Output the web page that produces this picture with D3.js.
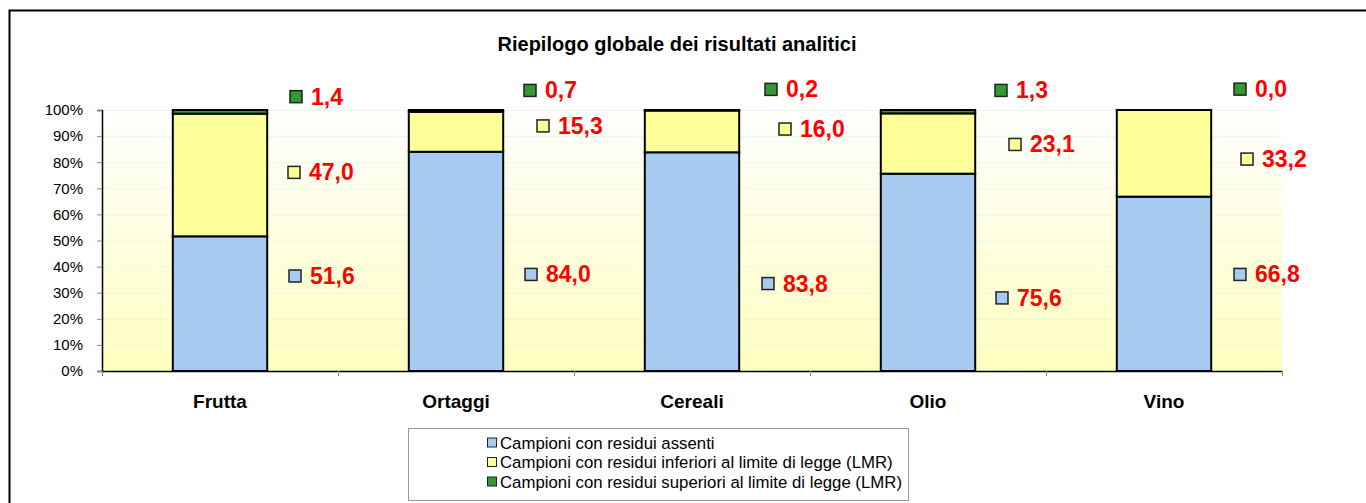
<html>
<head>
<meta charset="utf-8">
<title>Riepilogo globale dei risultati analitici</title>
<style type="text/css">
body { margin: 0; background: #fff; }
text { font-family: "Liberation Sans", Arial, sans-serif; }
</style>
</head>
<body>
<script src="https://d3js.org/d3.v7.min.js"></script>
<script>

// data (% of samples)
var categories = ["Frutta", "Ortaggi", "Cereali", "Olio", "Vino"];
var assenti    = [51.6, 84.0, 83.8, 75.6, 66.8];
var inferiori  = [47.0, 15.3, 16.0, 23.1, 33.2];
var superiori  = [1.4, 0.7, 0.2, 1.3, 0.0];
var seriesNames = ["Campioni con residui assenti",
                   "Campioni con residui inferiori al limite di legge (LMR)",
                   "Campioni con residui superiori al limite di legge (LMR)"];
var yTicks = [0, 10, 20, 30, 40, 50, 60, 70, 80, 90, 100];

// where the (hand moved) labels sit: y in % units, dx in px from bar centre
var labelY  = [[36.4, 76.1, 105.1], [37.0, 93.9, 107.5], [33.5, 92.7, 107.9], [28.0, 86.8, 107.5], [37.0, 81.2, 108.0]];
var labelDx = [[75, 74, 76], [75, 87, 74], [76, 93, 79], [74, 87, 73], [76, 83, 76]];

var colors = ["#A6CAF0", "#FFFF99", "#339933"];

var W = 1366, H = 503;
var margin = {top: 110, left: 102, right: 84, bottom: 132};

var svg = d3.select("body").append("svg")
    .attr("width", W)
    .attr("height", H);

// chart border (runs off the right and bottom)
svg.append("path")
    .attr("d", "M9.5," + H + "V10.5H" + W)
    .attr("fill", "none")
    .attr("stroke", "#000")
    .attr("stroke-width", 2);

var x = d3.scaleBand()
    .domain(categories)
    .range([margin.left, W - margin.right])
    .paddingInner(0.6)
    .paddingOuter(0.3);
var y = d3.scaleLinear()
    .domain([0, 100])
    .range([H - margin.bottom, margin.top]);

// background gradient
var defs = svg.append("defs");
var grad = defs.append("linearGradient")
    .attr("id", "bg").attr("x1", 0).attr("y1", 0).attr("x2", 0).attr("y2", 1);
grad.append("stop").attr("offset", "0%").attr("stop-color", "#ffffff");
grad.append("stop").attr("offset", "100%").attr("stop-color", "#FFFFC0");

svg.append("rect")
    .attr("x", margin.left)
    .attr("y", y(100))
    .attr("width", W - margin.right - margin.left)
    .attr("height", y(0) - y(100))
    .attr("fill", "url(#bg)");

// gridlines
svg.append("g").selectAll("line")
    .data(yTicks.slice(1))
    .join("line")
    .attr("x1", margin.left).attr("x2", W - margin.right)
    .attr("y1", function(d) { return y(d) + 0.5; })
    .attr("y2", function(d) { return y(d) + 0.5; })
    .attr("stroke", "#E4FBE4")
    .attr("stroke-width", 1);

// title
svg.append("text")
    .attr("x", 677)
    .attr("y", 51)
    .attr("text-anchor", "middle")
    .style("font-size", "20px")
    .style("font-weight", "bold")
    .text("Riepilogo globale dei risultati analitici");

// stacked bars
var table = categories.map(function(c, i) {
  return {cat: c, a: assenti[i], b: inferiori[i], c: superiori[i]};
});
var stack = d3.stack().keys(["a", "b", "c"])(table);

svg.append("g").selectAll("g")
    .data(stack)
    .join("g")
    .attr("fill", function(d, i) { return colors[i]; })
    .selectAll("rect")
    .data(function(d) { return d; })
    .join("rect")
    .attr("x", function(d) { return x(d.data.cat); })
    .attr("y", function(d) { return y(d[1]); })
    .attr("width", x.bandwidth())
    .attr("height", function(d) { return y(d[0]) - y(d[1]); })
    .attr("stroke", "#000")
    .attr("stroke-width", 2);

// y axis
var yAxis = svg.append("g")
    .attr("transform", "translate(" + margin.left + ",0)")
    .call(d3.axisLeft(y).tickValues(yTicks).tickFormat(function(d) { return d + "%"; }).tickSize(5).tickPadding(14));
yAxis.select(".domain").attr("stroke", "#000").attr("stroke-width", 1.5);
yAxis.selectAll(".tick line").attr("stroke", "#888");
yAxis.selectAll("text").style("font-size", "15px").attr("fill", "#000");

// x axis
var xAxis = svg.append("g")
    .attr("transform", "translate(0," + y(0) + ")")
    .call(d3.axisBottom(x).tickSize(0).tickPadding(24));
xAxis.select(".domain").attr("stroke", "#000").attr("stroke-width", 1.5);
xAxis.selectAll("text").style("font-size", "19px").style("font-weight", "bold").attr("fill", "#000");
xAxis.selectAll("line.bound")
    .data(d3.range(categories.length + 1))
    .join("line")
    .attr("class", "bound")
    .attr("x1", function(i) { return margin.left + i * x.step() + 0.5; })
    .attr("x2", function(i) { return margin.left + i * x.step() + 0.5; })
    .attr("y1", 0).attr("y2", 5)
    .attr("stroke", "#888");

// data labels with legend key
var seriesVals = [assenti, inferiori, superiori];
var labels = [];
categories.forEach(function(c, i) {
  seriesVals.forEach(function(vals, s) {
    labels.push({cx: x(c) + x.bandwidth() / 2 + labelDx[i][s], cy: y(labelY[i][s]), v: vals[i], s: s});
  });
});

var lab = svg.append("g").selectAll("g")
    .data(labels)
    .join("g")
    .attr("transform", function(d) { return "translate(" + d.cx + "," + d.cy + ")"; });
lab.append("rect")
    .attr("x", -6).attr("y", -6)
    .attr("width", 12).attr("height", 12)
    .attr("fill", function(d) { return colors[d.s]; })
    .attr("stroke", "#222")
    .attr("stroke-width", 1.5);
lab.append("text")
    .attr("x", 15)
    .attr("y", 8)
    .style("font-size", "23px")
    .style("font-weight", "bold")
    .attr("fill", "#FF0000")
    .text(function(d) { return d3.format(".1f")(d.v).replace(".", ","); });

// legend
var lg = svg.append("g");
lg.append("rect")
    .attr("x", 408.5).attr("y", 428.5)
    .attr("width", 500).attr("height", 72)
    .attr("fill", "#fff")
    .attr("stroke", "#999");
var li = lg.selectAll("g")
    .data(seriesNames)
    .join("g")
    .attr("transform", function(d, i) { return "translate(487," + (442.5 + i * 19.5) + ")"; });
li.append("rect")
    .attr("x", 0.5).attr("y", -4.5)
    .attr("width", 9).attr("height", 9)
    .attr("fill", function(d, i) { return colors[i]; })
    .attr("stroke", "#222");
li.append("text")
    .attr("x", 13)
    .attr("y", 6)
    .style("font-size", "16.8px")
    .text(function(d) { return d; });

</script>
</body>
</html>
